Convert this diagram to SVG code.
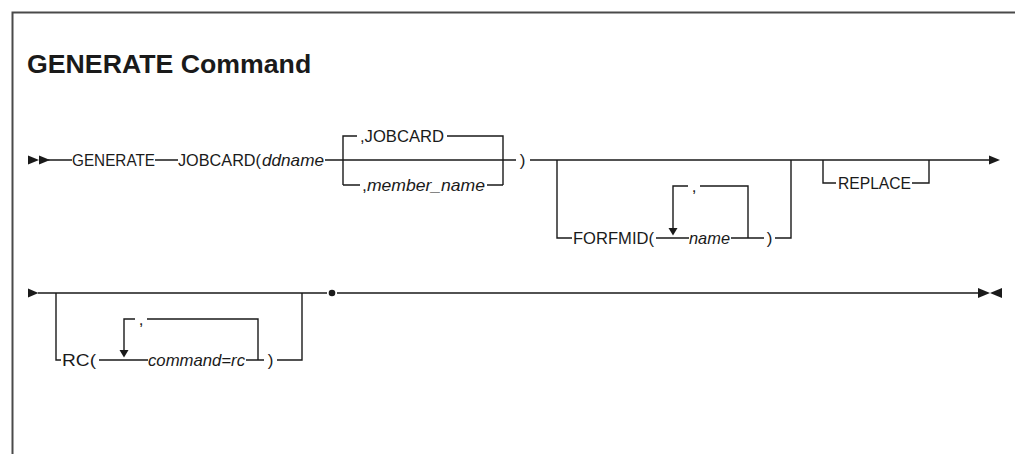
<svg xmlns="http://www.w3.org/2000/svg" width="1015" height="454" viewBox="0 0 1015 454">
<style>
.frame{stroke:#4a4a4a;stroke-width:2;fill:none}
.ln{stroke:#1a1a1a;stroke-width:1.4;fill:none}
.ah{fill:#1a1a1a}
.t{font-family:"Liberation Sans",Arial,sans-serif;font-size:17px;fill:#1a1a1a}
.i{font-style:italic}
.title{font-family:"Liberation Sans",Arial,sans-serif;font-size:26.7px;font-weight:bold;fill:#1a1a1a}
</style>
<rect width="1015" height="454" fill="#ffffff"/>
<path class="frame" d="M12.5 454 V12.5 H1015"/>
<text class="title" x="27" y="73">GENERATE Command</text>

<g id="connectors">
  <!-- row 1 -->
  <polygon class="ah" points="28,155.5 39,160 28,164.5"/>
  <polygon class="ah" points="39,155.5 50,160 39,164.5"/>
  <path class="ln" d="M48 160 H72 M155 160 H178 M325 160 H516 M530 160 H990"/>
  <polygon class="ah" points="989,155.5 1000,160 989,164.5"/>
  <!-- JOBCARD choice -->
  <path class="ln" d="M343 185 V136 H357 M447 136 H503 V185 M343 185 H360 M487 185 H503"/>
  <!-- FORFMID -->
  <path class="ln" d="M557 160 V238 H572 M656 238 H689 M731 238 H764 M775 238 H791 V160"/>
  <path class="ln" d="M673 229 V186 H688 M700 186 H748 V238"/>
  <polygon class="ah" points="668.5,228 677.5,228 673,235.5"/>
  <!-- REPLACE -->
  <path class="ln" d="M823 160 V183 H836 M912 183 H929 V160"/>
  <!-- row 2 -->
  <polygon class="ah" points="28,288.5 38.5,293 28,297.5"/>
  <path class="ln" d="M38 293 H327 M337 293 H979"/>
  <circle class="ah" cx="332" cy="293" r="3.3"/>
  <polygon class="ah" points="978,288 990,293 978,298"/>
  <polygon class="ah" points="1002,288 990,293 1002,298"/>
  <!-- RC -->
  <path class="ln" d="M56 293 V360 H61 M99 360 H148 M246 360 H264 M277 360 H302 V293"/>
  <path class="ln" d="M124 351 V319 H135 M147 319 H258 V360"/>
  <polygon class="ah" points="119.5,350 128.5,350 124,357.5"/>
</g>

<g id="n-generate"><text class="t" x="72" y="166" textLength="83" lengthAdjust="spacingAndGlyphs">GENERATE</text></g>
<g id="n-jobcard"><text class="t" x="178" y="166" textLength="83" lengthAdjust="spacingAndGlyphs">JOBCARD(</text></g>
<g id="n-ddname"><text class="t i" x="262" y="166" textLength="62" lengthAdjust="spacingAndGlyphs">ddname</text></g>
<g id="n-jobcard-default"><text class="t" x="360" y="142" textLength="84" lengthAdjust="spacingAndGlyphs">,JOBCARD</text></g>
<g id="n-member"><text class="t" x="362" y="191" textLength="123" lengthAdjust="spacingAndGlyphs">,<tspan class="i">member_name</tspan></text></g>
<g id="n-close1"><text class="t" x="522.5" y="166" text-anchor="middle">)</text></g>
<g id="n-forfmid"><text class="t" x="573" y="244" textLength="81" lengthAdjust="spacingAndGlyphs">FORFMID(</text></g>
<g id="n-forfmid-comma"><text class="t" x="694" y="192" text-anchor="middle">,</text></g>
<g id="n-name"><text class="t i" x="689" y="244" textLength="41" lengthAdjust="spacingAndGlyphs">name</text></g>
<g id="n-close2"><text class="t" x="769.5" y="244" text-anchor="middle">)</text></g>
<g id="n-replace"><text class="t" x="838" y="189" textLength="73" lengthAdjust="spacingAndGlyphs">REPLACE</text></g>
<g id="n-rc"><text class="t" x="62" y="366" textLength="34" lengthAdjust="spacingAndGlyphs">RC(</text></g>
<g id="n-rc-comma"><text class="t" x="141" y="325" text-anchor="middle">,</text></g>
<g id="n-command"><text class="t i" x="148" y="366" textLength="97" lengthAdjust="spacingAndGlyphs">command=rc</text></g>
<g id="n-close3"><text class="t" x="270.5" y="366" text-anchor="middle">)</text></g>
</svg>
